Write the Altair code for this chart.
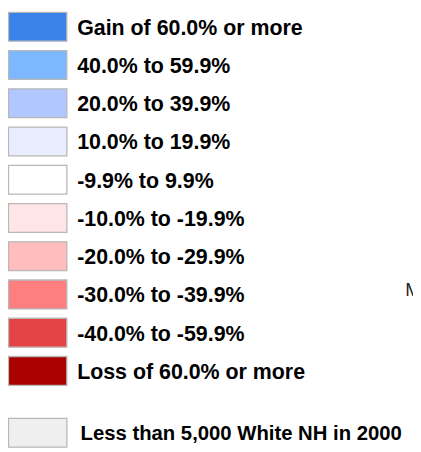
import altair as alt
import pandas as pd

# Legend categories (top to bottom) and their fill colours
labels = [
    "Gain of 60.0% or more",
    "40.0% to 59.9%",
    "20.0% to 39.9%",
    "10.0% to 19.9%",
    "-9.9% to 9.9%",
    "-10.0% to -19.9%",
    "-20.0% to -29.9%",
    "-30.0% to -39.9%",
    "-40.0% to -59.9%",
    "Loss of 60.0% or more",
]
colors = [
    "#3b82e8", "#7db7ff", "#b0c8ff", "#e8eeff", "#ffffff",
    "#ffe5e6", "#ffbdbd", "#ff7f80", "#e54446", "#a90000",
]
nodata_label = "Less than 5,000 White NH in 2000"
nodata_color = "#efefef"
side_text = "M"

W, H = 413, 444
STEP = 39.0          # px per legend row
BOX = 29.5           # swatch height in px
GAP_ROWS = 10.615    # position of the no-data row, in row units

units = H / STEP
rows = []
for i, (lab, col) in enumerate(zip(labels, colors)):
    rows.append({"label": lab, "color": col, "top": i, "bot": i + BOX / STEP,
                 "mid": i + BOX / STEP / 2, "kind": "main"})
rows.append({"label": nodata_label, "color": nodata_color, "top": GAP_ROWS,
             "bot": GAP_ROWS + BOX / STEP, "mid": GAP_ROWS + BOX / STEP / 2,
             "kind": "nodata"})
df = pd.DataFrame(rows)

yscale = alt.Scale(domain=[0, units], range=[0, H], nice=False, zero=False)

base = alt.Chart(df)

swatches = base.mark_rect(stroke="#b8b8b8", strokeWidth=1.3).encode(
    x=alt.value(0.5), x2=alt.value(60),
    y=alt.Y("top:Q", scale=yscale, axis=None),
    y2="bot:Q",
    fill=alt.Color("color:N", scale=None),
)

main_text = base.transform_filter(alt.datum.kind == "main").mark_text(
    align="left", baseline="middle", font="Liberation Sans", fontWeight="bold",
    fontSize=21.8, color="#000000", dy=1,
).encode(
    x=alt.value(70.5),
    y=alt.Y("mid:Q", scale=yscale, axis=None),
    text="label:N",
)

nodata_text = base.transform_filter(alt.datum.kind == "nodata").mark_text(
    align="left", baseline="middle", font="Liberation Sans", fontWeight="bold",
    fontSize=20.7, color="#000000", dy=1,
).encode(
    x=alt.value(74),
    y=alt.Y("mid:Q", scale=yscale, axis=None),
    text="label:N",
)

side = alt.Chart(pd.DataFrame({"t": [side_text]})).mark_text(
    align="left", baseline="middle", font="Liberation Sans", fontSize=19,
    color="#222222",
).encode(x=alt.value(405), y=alt.value(283), text="t:N")

chart = alt.layer(swatches, main_text, nodata_text, side).properties(
    width=W, height=H, autosize=alt.AutoSizeParams(type="none"), padding=0
).configure_view(stroke=None)

chart.save("out.html", embed_options={"renderer": "svg", "actions": False})
